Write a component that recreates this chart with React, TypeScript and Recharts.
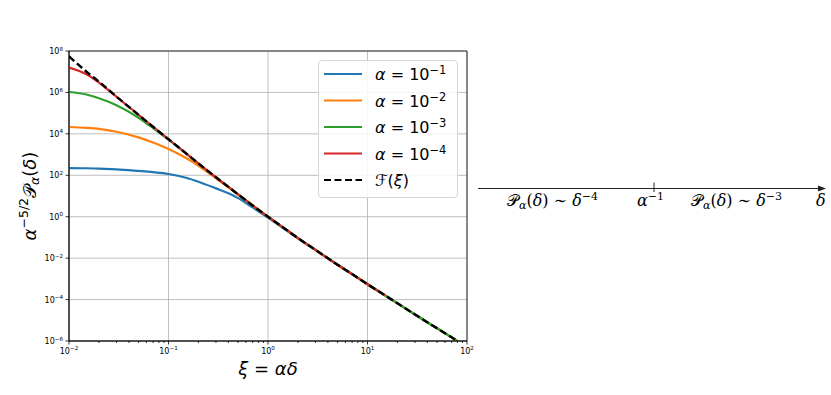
import React from "react"
import { LineChart, Line, XAxis, YAxis, CartesianGrid, ReferenceArea } from "recharts"

// xi = alpha * delta
const xi = [0.01, 0.015, 0.02, 0.03, 0.05, 0.07, 0.1, 0.15, 0.2, 0.3, 0.4, 0.5, 0.7, 1, 1.5, 2, 3, 5, 7, 10, 15, 20, 30, 50, 70, 100]

const alpha1 = [224, 219, 209, 195, 162, 141, 115, 76, 49, 23.4, 13.5, 7.9, 2.8, 0.91, 0.234, 0.091, 0.025, 4.8e-3, 1.7e-3, 5.5e-4, 1.6e-4, 6.6e-5, 1.9e-5, 4.1e-6, 1.5e-6, 5.0e-7]
const alpha2 = [2.14e4, 1.95e4, 1.74e4, 1.26e4, 6.8e3, 3.8e3, 1.86e3, 6.8e2, 2.9e2, 72, 26, 11.7, 3.5, 1.0, 0.25, 0.093, 0.025, 4.8e-3, 1.7e-3, 5.5e-4, 1.6e-4, 6.6e-5, 1.9e-5, 4.1e-6, 1.5e-6, 5.0e-7]
const alpha3 = [1.05e6, 7.9e5, 5.2e5, 2.4e5, 6.0e4, 1.9e4, 5.2e3, 1.13e3, 370, 80, 27.5, 12, 3.5, 1.0, 0.25, 0.093, 0.025, 4.8e-3, 1.7e-3, 5.5e-4, 1.6e-4, 6.6e-5, 1.9e-5, 4.1e-6, 1.5e-6, 5.0e-7]
const alpha4 = [1.6e7, 7.6e6, 3.0e6, 6.2e5, 8.3e4, 2.2e4, 5.5e3, 1.15e3, 370, 80, 27.5, 12, 3.5, 1.0, 0.25, 0.093, 0.025, 4.8e-3, 1.7e-3, 5.5e-4, 1.6e-4, null, null, null, null, null]
const scaling = [5.5e7, 1.0e7, 3.3e6, 6.3e5, 8.3e4, 2.2e4, 5.5e3, 1.15e3, 370, 80, 27.5, 12, 3.5, 1.0, 0.25, 0.093, 0.025, 4.8e-3, 1.7e-3, 5.5e-4, 1.6e-4, 6.6e-5, 1.9e-5, 4.1e-6, 1.5e-6, 5.0e-7]

const alphaExp = ["−1", "−2", "−3", "−4"]
const colors = ["#1f77b4", "#ff7f0e", "#2ca02c", "#d62728"]

const xMajor = [0.01, 0.1, 1, 10, 100]
const xMinor = [
  0.02, 0.03, 0.04, 0.05, 0.06, 0.07, 0.08, 0.09,
  0.2, 0.3, 0.4, 0.5, 0.6, 0.7, 0.8, 0.9,
  2, 3, 4, 5, 6, 7, 8, 9,
  20, 30, 40, 50, 60, 70, 80, 90,
]
const yMajor = [1e-6, 1e-4, 1e-2, 1, 1e2, 1e4, 1e6, 1e8]

const data = xi.map((x, i) => ({
  xi: x,
  a1: alpha1[i],
  a2: alpha2[i],
  a3: alpha3[i],
  a4: alpha4[i],
  f: scaling[i],
}))

const FONT = "'DejaVu Sans', sans-serif"

function expLabel(v: number) {
  const e = Math.round(Math.log10(v))
  return e < 0 ? "−" + Math.abs(e) : String(e)
}

function XTick(props: any) {
  const { x, y, payload } = props
  const v = payload.value
  const major = xMajor.includes(v)
  return (
    <g>
      <line x1={x} x2={x} y1={y} y2={y + (major ? 3.5 : 2)} stroke="#000" strokeWidth={0.8} />
      {major && (
        <text x={x} y={y + 12.5} textAnchor="middle" fontSize={8} fontFamily={FONT} fill="#000">
          10<tspan dy={-3.5} fontSize={5.6}>{expLabel(v)}</tspan>
        </text>
      )}
    </g>
  )
}

function YTick(props: any) {
  const { x, y, payload } = props
  return (
    <g>
      <line x1={x - 3.5} x2={x} y1={y} y2={y} stroke="#000" strokeWidth={0.8} />
      <text x={x - 6} y={y + 3} textAnchor="end" fontSize={8} fontFamily={FONT} fill="#000">
        10<tspan dy={-3.5} fontSize={5.6}>{expLabel(payload.value)}</tspan>
      </text>
    </g>
  )
}

function XLabel(props: any) {
  const vb = props.viewBox
  return (
    <text x={vb.x + vb.width / 2} y={vb.y + 34} textAnchor="middle" fontSize={18} fontFamily={FONT} fill="#000">
      <tspan fontStyle="italic">ξ</tspan> = <tspan fontStyle="italic">αδ</tspan>
    </text>
  )
}

function YLabel(props: any) {
  const vb = props.viewBox
  const cx = vb.x + 31
  const cy = vb.y + vb.height / 2
  return (
    <text x={cx} y={cy} transform={`rotate(-90 ${cx} ${cy})`} textAnchor="middle" dominantBaseline="middle" fontSize={18} fontFamily={FONT} fill="#000">
      <tspan fontStyle="italic">α</tspan>
      <tspan dy={-7} fontSize={12.5}>−5/2</tspan>
      <tspan dy={7}>𝒫</tspan>
      <tspan dy={4} fontSize={12.5} fontStyle="italic">α</tspan>
      <tspan dy={-4}>(</tspan>
      <tspan fontStyle="italic">δ</tspan>
      <tspan>)</tspan>
    </text>
  )
}

function LegendBox() {
  const rows = [0, 1, 2, 3, 4]
  return (
    <div style={{ position: "absolute", left: 318, top: 60, width: 140, height: 138, border: "1px solid #d6d6d6", borderRadius: 4, background: "rgba(255,255,255,0.85)", boxSizing: "border-box" }}>
      <svg width={140} height={138} style={{ position: "absolute", left: -1, top: -1 }}>
        {rows.map((r) => {
          const cy = 14 + r * 26.5
          const isF = r === 4
          return (
            <g key={r}>
              <line x1={6} x2={44} y1={cy} y2={cy} stroke={isF ? "#000" : colors[r]} strokeWidth={2.2} strokeDasharray={isF ? "7 3.5" : undefined} />
              <text x={57} y={cy + 6} fontSize={16} fontFamily={FONT} fill="#000">
                {isF ? (
                  <>
                    <tspan fontStyle="italic">ℱ</tspan>(<tspan fontStyle="italic">ξ</tspan>)
                  </>
                ) : (
                  <>
                    <tspan fontStyle="italic">α</tspan> = 10<tspan dy={-6} fontSize={11.5}>{alphaExp[r]}</tspan>
                  </>
                )}
              </text>
            </g>
          )
        })}
      </svg>
    </div>
  )
}

function Annotation() {
  const serif = "'DejaVu Serif', serif"
  return (
    <svg width={831} height={395} style={{ position: "absolute", left: 0, top: 0, pointerEvents: "none" }}>
      <line x1={478} x2={821} y1={188.5} y2={188.5} stroke="#222" strokeWidth={1} />
      <polygon points="826,188.5 818,185.5 818,191.5" fill="#222" />
      <line x1={654} x2={654} y1={182.5} y2={192} stroke="#222" strokeWidth={1} />
      <text x={507} y={206} fontSize={16} fontFamily={serif} fill="#000">
        𝒫<tspan dy={3} fontSize={11} fontStyle="italic">α</tspan>
        <tspan dy={-3}>(</tspan><tspan fontStyle="italic">δ</tspan>) ∼ <tspan fontStyle="italic">δ</tspan>
        <tspan dy={-6} fontSize={11}>−4</tspan>
      </text>
      <text x={637} y={206} fontSize={16} fontFamily={serif} fill="#000">
        <tspan fontStyle="italic">α</tspan>
        <tspan dy={-6} fontSize={11}>−1</tspan>
      </text>
      <text x={691} y={206} fontSize={16} fontFamily={serif} fill="#000">
        𝒫<tspan dy={3} fontSize={11} fontStyle="italic">α</tspan>
        <tspan dy={-3}>(</tspan><tspan fontStyle="italic">δ</tspan>) ∼ <tspan fontStyle="italic">δ</tspan>
        <tspan dy={-6} fontSize={11}>−3</tspan>
      </text>
      <text x={816} y={206} fontSize={16} fontFamily={serif} fontStyle="italic" fill="#000">δ</text>
    </svg>
  )
}

export default function App() {
  const keys = ["a1", "a2", "a3", "a4"]
  return (
    <div style={{ position: "absolute", left: 0, top: 0, width: 831, height: 395, background: "#fff" }}>
      <LineChart width={831} height={395} data={data} margin={{ top: 51, right: 364, bottom: 0, left: 0 }}>
        <CartesianGrid stroke="#b0b0b0" strokeWidth={0.8} verticalValues={xMajor} horizontalValues={yMajor} />
        <XAxis
          dataKey="xi"
          type="number"
          scale="log"
          domain={[0.01, 100]}
          allowDataOverflow
          ticks={[...xMajor, ...xMinor].sort((a, b) => a - b)}
          interval={0}
          tick={<XTick />}
          tickLine={false}
          tickSize={0}
          tickMargin={0}
          height={54}
          axisLine={{ stroke: "#000", strokeWidth: 0.8 }}
          label={{ content: XLabel }}
        />
        <YAxis
          type="number"
          scale="log"
          domain={[1e-6, 1e8]}
          allowDataOverflow
          ticks={yMajor}
          interval={0}
          tick={<YTick />}
          tickLine={false}
          tickSize={0}
          tickMargin={0}
          width={69}
          axisLine={{ stroke: "#000", strokeWidth: 0.8 }}
          label={{ content: YLabel }}
        />
        {keys.map((k, i) => (
          <Line key={k} dataKey={k} type="monotone" stroke={colors[i]} strokeWidth={2.2} dot={false} isAnimationActive={false} />
        ))}
        <Line dataKey="f" type="monotone" stroke="#000" strokeWidth={2.4} strokeDasharray="7 3.5" dot={false} isAnimationActive={false} />
        <ReferenceArea x1={0.01} x2={100} y1={1e-6} y2={1e8} fill="none" stroke="#000" strokeWidth={0.8} />
      </LineChart>
      <LegendBox />
      <Annotation />
    </div>
  )
}
